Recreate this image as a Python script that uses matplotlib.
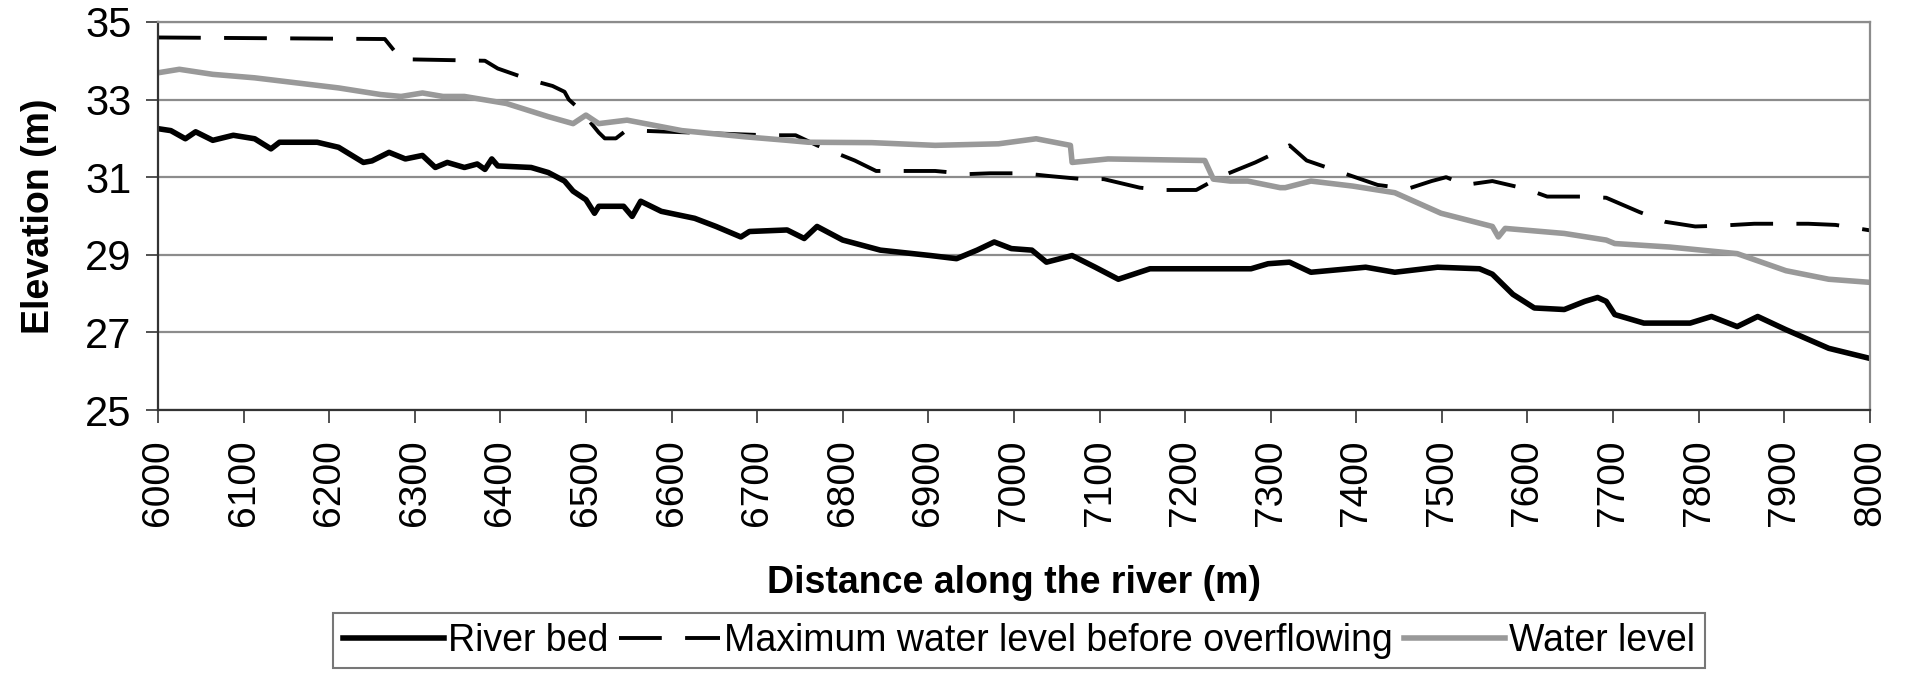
import matplotlib
matplotlib.use("Agg")
import matplotlib.pyplot as plt

plt.rcParams['font.family'] = ['Liberation Sans', 'DejaVu Sans']

# river bed profile
bed_x = [6000, 6015, 6032, 6044, 6064, 6088, 6113, 6132, 6142, 6186, 6211, 6240, 6250,
         6270, 6289, 6309, 6324, 6338, 6358, 6373, 6382, 6390, 6397, 6436, 6456, 6475,
         6485, 6500, 6510, 6515, 6544, 6554, 6564, 6588, 6627, 6652, 6681, 6691, 6735,
         6755, 6770, 6800, 6844, 6903, 6933, 6957, 6977, 6997, 7021, 7038, 7068, 7095,
         7122, 7159, 7218, 7277, 7297, 7322, 7347, 7411, 7445, 7495, 7544, 7559, 7583,
         7608, 7643, 7667, 7682, 7692, 7702, 7736, 7790, 7815, 7845, 7869, 7902, 7952, 8000]
bed_y = [32.25, 32.2, 31.99, 32.17, 31.95, 32.08, 31.99, 31.73, 31.9, 31.9, 31.77, 31.38, 31.42,
         31.64, 31.47, 31.56, 31.25, 31.38, 31.25, 31.34, 31.2, 31.47, 31.29, 31.25, 31.12, 30.9,
         30.64, 30.42, 30.07, 30.25, 30.25, 29.99, 30.38, 30.12, 29.94, 29.73, 29.46, 29.6, 29.64,
         29.42, 29.73, 29.38, 29.12, 28.98, 28.9, 29.12, 29.33, 29.16, 29.12, 28.81, 28.98, 28.68,
         28.37, 28.64, 28.64, 28.64, 28.77, 28.81, 28.55, 28.68, 28.55, 28.68, 28.64, 28.5, 27.98,
         27.63, 27.59, 27.8, 27.9, 27.8, 27.46, 27.24, 27.24, 27.41, 27.15, 27.41, 27.07, 26.59, 26.33]

# maximum water level before overflowing
max_x = [6000, 6265, 6284, 6382, 6397, 6436, 6461, 6475, 6480, 6495, 6502, 6515, 6522, 6535,
         6545, 6560, 6711, 6745, 6770, 6814, 6839, 6878, 6908, 6947, 6972, 7011, 7041, 7080,
         7105, 7147, 7174, 7213, 7243, 7282, 7303, 7322, 7342, 7425, 7460, 7488, 7505, 7527,
         7559, 7598, 7623, 7662, 7692, 7731, 7761, 7796, 7825, 7865, 7928, 7960, 8000]
max_y = [34.6, 34.56, 34.04, 34.0, 33.8, 33.5, 33.35, 33.2, 33.0, 32.7, 32.5, 32.15, 32.0, 32.0,
         32.17, 32.2, 32.08, 32.08, 31.82, 31.43, 31.16, 31.16, 31.16, 31.08, 31.1, 31.1, 31.03, 30.95,
         30.95, 30.73, 30.67, 30.67, 31.03, 31.38, 31.6, 31.82, 31.43, 30.8, 30.7, 30.9, 31.0, 30.8,
         30.9, 30.7, 30.5, 30.5, 30.47, 30.1, 29.85, 29.73, 29.75, 29.8, 29.8, 29.77, 29.63]

# computed water level
wl_x = [6000, 6025, 6064, 6113, 6162, 6211, 6260, 6284, 6309, 6333, 6358, 6407, 6456, 6485,
        6500, 6515, 6548, 6612, 6686, 6735, 6760, 6834, 6908, 6982, 7026, 7066, 7068, 7110,
        7223, 7233, 7253, 7273, 7311, 7317, 7347, 7396, 7445, 7499, 7559, 7566, 7574, 7643,
        7692, 7702, 7766, 7845, 7902, 7952, 8000]
wl_y = [33.69, 33.78, 33.65, 33.56, 33.43, 33.3, 33.13, 33.08, 33.17, 33.08, 33.08, 32.9, 32.56, 32.38,
        32.6, 32.38, 32.47, 32.2, 32.04, 31.95, 31.9, 31.89, 31.82, 31.86, 31.99, 31.82, 31.38, 31.47,
        31.43, 30.95, 30.9, 30.9, 30.73, 30.73, 30.9, 30.77, 30.6, 30.07, 29.73, 29.46, 29.68, 29.55,
        29.38, 29.29, 29.2, 29.03, 28.59, 28.37, 28.29]

x_ticks = list(range(6000, 8001, 100))
y_ticks = [25, 27, 29, 31, 33, 35]

fig = plt.figure(figsize=(19.08, 6.86), dpi=100)
ax = fig.add_axes([0.0828, 0.4023, 0.8972, 0.5657])

ax.plot(bed_x, bed_y, color='black', lw=4, label='River bed')
ax.plot(max_x, max_y, color='black', lw=2.8, dashes=(11, 6),
        label='Maximum water level before overflowing')
ax.plot(wl_x, wl_y, color='#999999', lw=4, label='Water level')

ax.set_xlim(6000, 8000)
ax.set_ylim(25, 35)
ax.set_xticks(x_ticks)
ax.set_yticks(y_ticks)
ax.tick_params(axis='x', labelsize=28, rotation=90, length=9, width=1.2, pad=12, colors='#333333',
               labelcolor='black')
ax.tick_params(axis='y', labelsize=30, length=9, width=1.2, pad=10, colors='#333333',
               labelcolor='black')
ax.grid(axis='y', color='#8c8c8c', lw=1.6)
ax.set_axisbelow(True)
for side in ['left', 'bottom']:
    ax.spines[side].set_color('#333333')
    ax.spines[side].set_linewidth(1.6)
for side in ['top', 'right']:
    ax.spines[side].set_color('#8c8c8c')
    ax.spines[side].set_linewidth(1.6)

ax.set_xlabel('Distance along the river (m)', fontsize=27, fontweight='bold', labelpad=28)
ax.set_ylabel('Elevation (m)', fontsize=27, fontweight='bold', labelpad=20)

leg = fig.legend(loc='center', bbox_to_anchor=(0.534, 0.066), ncol=3, fontsize=27,
                 frameon=True, fancybox=False, handlelength=2.7, handletextpad=0.1,
                 columnspacing=0.3, borderpad=0.25)
leg.get_frame().set_edgecolor('#555555')
leg.get_frame().set_linewidth(1.5)

fig.savefig('out.png', dpi=100)
